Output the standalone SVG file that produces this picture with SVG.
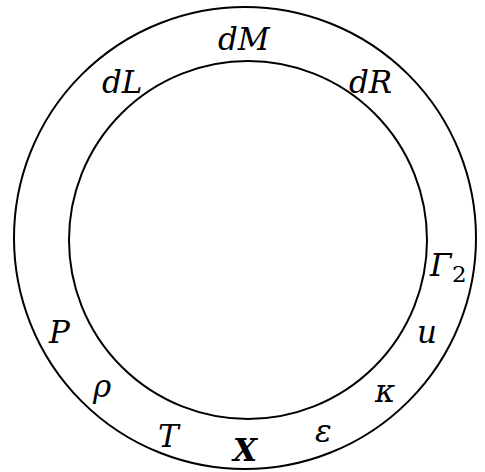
<svg xmlns="http://www.w3.org/2000/svg" width="485" height="472" viewBox="0 0 485 472">
<style>
.c{fill:none;stroke:#000;stroke-width:2}
.b{font-weight:bold}
.s{font-style:normal;font-size:23px}
</style>
<rect width="485" height="472" fill="#fff"/>
<g id="rings">
<circle id="outer" class="c" cx="245" cy="238" r="231"/>
<circle id="inner" class="c" cx="248" cy="240" r="179"/>
</g>
<g id="labels" font-family="'DejaVu Serif', serif" font-style="italic" font-size="31" fill="#000">
<text id="dM" x="218" y="50">dM</text>
<text id="dL" x="102" y="93">dL</text>
<text id="dR" x="349" y="93">dR</text>
<g id="Gamma2"><text x="430" y="276">Γ</text><text class="s" x="452" y="282">2</text></g>
<text id="P" x="49" y="343">P</text>
<text id="u" x="417" y="343">u</text>
<text id="rho" x="93" y="397">ρ</text>
<text id="kappa" x="375" y="402">κ</text>
<text id="T" x="158" y="447">T</text>
<text id="X" class="b" x="233" y="461">X</text>
<text id="eps" x="315" y="442">ε</text>
</g>
</svg>
